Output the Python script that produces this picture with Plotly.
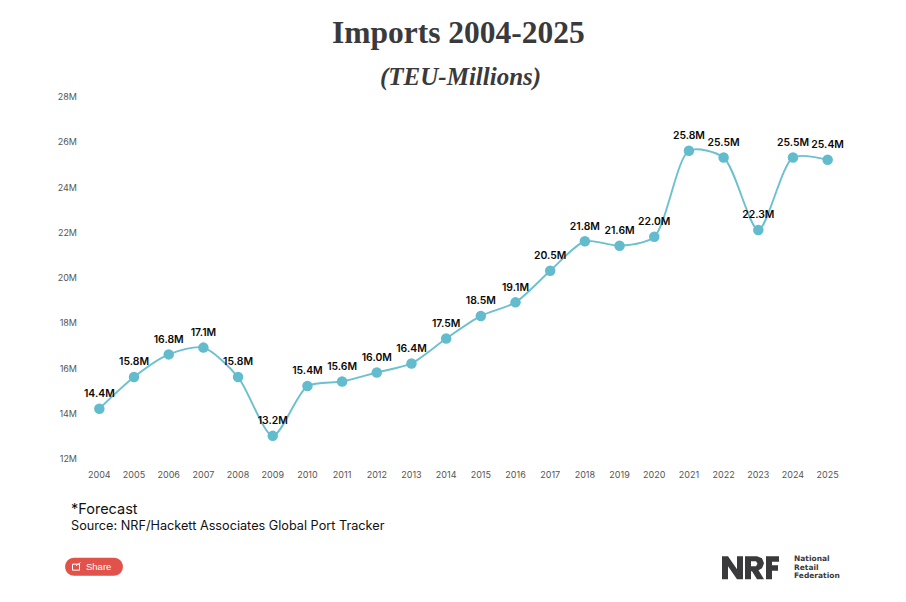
import plotly.graph_objects as go

# Annual import volumes, millions of TEU
years = list(range(2004, 2026))
imports = [14.4, 15.8, 16.8, 17.1, 15.8, 13.2, 15.4, 15.6, 16.0, 16.4, 17.5,
           18.5, 19.1, 20.5, 21.8, 21.6, 22.0, 25.8, 25.5, 22.3, 25.5, 25.4]
value_labels = [f"{v:.1f}M" for v in imports]

title_text = "Imports 2004-2025"
subtitle_text = "(TEU-Millions)"
note_text = "*Forecast"
source_text = "Source: NRF/Hackett Associates Global Port Tracker"
org_lines = ["National", "Retail", "Federation"]

W, H = 906, 602
LEFT, RIGHT, TOP, BOTTOM = 82, 61, 100.7, 139.2
BODY = "Inter"
SERIF = "Liberation Serif"
INK = "#3a3a3c"


def px(x):
    return (x - LEFT) / (W - LEFT - RIGHT)


def py(y):
    return 1 - (y - TOP) / (H - TOP - BOTTOM)


def label(x, y, text, size, color="#111111", family=BODY, anchor="left",
          weight=400, style="normal"):
    return dict(x=px(x), y=py(y), xref="paper", yref="paper", text=text,
                showarrow=False, xanchor=anchor, yanchor="middle",
                align=anchor, borderpad=0,
                font=dict(family=family, size=size, color=color,
                          weight=weight, style=style))


def poly(points, fill):
    """Filled polygon given in page pixels."""
    d = "M" + " L".join(f"{px(x)},{py(y)}" for x, y in points) + " Z"
    return dict(type="path", xref="paper", yref="paper", layer="above",
                path=d, fillcolor=fill, line_width=0)


fig = go.Figure()
fig.add_trace(go.Scatter(
    x=years, y=imports, mode="lines+markers",
    line=dict(color="#6cc0cf", width=1.9, shape="spline", smoothing=0.75),
    marker=dict(color="#63bccd", size=10.5),
    cliponaxis=False, hoverinfo="x+y",
))
# Value labels sit on an invisible, larger marker so they clear the dots
fig.add_trace(go.Scatter(
    x=years, y=imports, mode="markers+text",
    marker=dict(size=13, opacity=0),
    text=value_labels, textposition="top center",
    textfont=dict(family=BODY, size=10.4, color="#0a0a0a", weight=600),
    cliponaxis=False, hoverinfo="skip",
))

annotations = [
    label(458, 32, title_text, 31.5, INK, SERIF, "center", 700),
    label(460, 77, subtitle_text, 25, INK, SERIF, "center", 700, "italic"),
    label(70, 508, note_text, 14.5),
    label(70, 525.5, source_text, 12.7),
    label(85, 566.5, "Share", 9.5, "#ffffff", "Liberation Sans"),
]
for i, line in enumerate(org_lines):
    annotations.append(label(792.5, 558 + 8.9 * i, line, 7.5, INK, "DejaVu Sans", "left", 700))

button = (f"M{px(74.5)},{py(557.5)} L{px(113.5)},{py(557.5)} "
          f"C{px(126)},{py(557.5)} {px(126)},{py(575.5)} {px(113.5)},{py(575.5)} "
          f"L{px(74.5)},{py(575.5)} "
          f"C{px(62)},{py(575.5)} {px(62)},{py(557.5)} {px(74.5)},{py(557.5)} Z")

shapes = [
    # Share button and its small icon
    dict(type="path", xref="paper", yref="paper", layer="above", path=button,
         fillcolor="#e0524a", line_width=0),
    dict(type="rect", xref="paper", yref="paper", layer="above",
         x0=px(72.5), x1=px(79.5), y0=py(564), y1=py(570),
         line=dict(color="#ffffff", width=1)),
    dict(type="line", xref="paper", yref="paper", layer="above",
         x0=px(76), x1=px(80.5), y0=py(565.5), y1=py(562.5),
         line=dict(color="#ffffff", width=1)),
    # Block letters of the federation's logo
    poly([(722, 556), (728, 556), (737, 569), (737, 556), (743, 556), (743, 579),
          (737, 579), (728, 566), (728, 579), (722, 579)], INK),
    poly([(745, 556), (757, 556), (762, 558), (764, 563), (762, 568), (758.5, 570),
          (764, 579), (757, 579), (752, 571), (751, 571), (751, 579), (745, 579)], INK),
    poly([(751, 561), (756, 561), (757.5, 563.5), (756, 566), (751, 566)], "#ffffff"),
    poly([(766, 556), (779, 556), (779, 561.5), (772, 561.5), (772, 565), (778, 565),
          (778, 570.5), (772, 570.5), (772, 579), (766, 579)], INK),
]

fig.update_layout(
    width=W, height=H, autosize=False,
    margin=dict(l=LEFT, r=RIGHT, t=TOP, b=BOTTOM, pad=0),
    paper_bgcolor="#ffffff", plot_bgcolor="#ffffff",
    showlegend=False, annotations=annotations, shapes=shapes,
    font=dict(family=BODY),
)
fig.update_xaxes(
    range=[2003.5, 2025.5], tickmode="linear", dtick=1, tick0=2004,
    showgrid=False, zeroline=False, showline=False, ticks="",
    ticklabelstandoff=5,
    tickfont=dict(family=BODY, size=9, color="#555555"),
)
fig.update_yaxes(
    range=[12, 28], tickmode="linear", dtick=2, tick0=12, ticksuffix="M",
    showgrid=False, zeroline=False, showline=False, ticks="",
    ticklabelshift=-4, ticklabelstandoff=4,
    tickfont=dict(family=BODY, size=9, color="#555555"),
)

fig.write_html("out.html", config=dict(displayModeBar=False))
